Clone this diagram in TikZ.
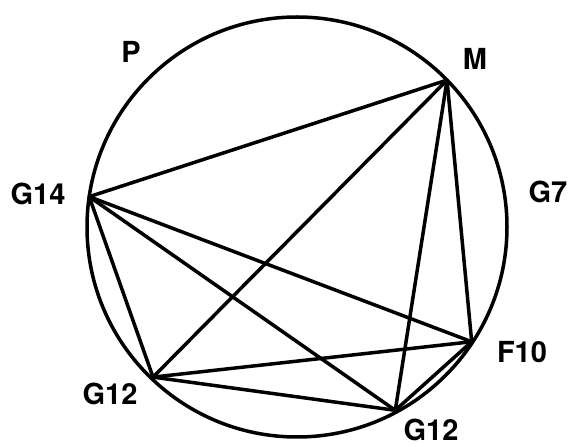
\documentclass[tikz,border=0pt]{standalone}
\usepackage{fontspec}
\setmainfont{TeX Gyre Heros}
\usetikzlibrary{calc}
\begin{document}
\begin{tikzpicture}[x=1pt,y=1pt,
  edge/.style={line width=3.5pt,line cap=round,line join=round},
  lbl/.style={inner sep=0pt,font=\fontsize{29}{34}\selectfont\bfseries}]
\useasboundingbox (0,0) rectangle (571,447);
\coordinate (O) at (297,220);
\draw[edge] (O) circle[radius=210];
\coordinate (M) at ($(O)+(44.4:210)$);
\coordinate (G14) at ($(O)+(171.7:210)$);
\coordinate (G12a) at ($(O)+(226.2:208)$);
\coordinate (G12b) at ($(O)+(298.2:208)$);
\coordinate (F10) at ($(O)+(326.7:209)$);
\draw[edge] (M) -- (G14);
\draw[edge] (M) -- (G12a);
\draw[edge] (M) -- (G12b);
\draw[edge] (M) -- (F10);
\draw[edge] (G14) -- (F10);
\draw[edge] (G14) -- (G12b);
\draw[edge] (G14) -- (G12a);
\draw[edge] (G12a) -- (F10);
\draw[edge] (G12a) -- (G12b);
\draw[edge] (F10) -- (G12b);
\node[lbl] (lM) at (475,388) {M};
\node[lbl] (lP) at (131,395) {P};
\node[lbl] (lG14) at (38,253) {G14};
\node[lbl] (lG7) at (548,255) {G7};
\node[lbl] (lF10) at (522,95) {F10};
\node[lbl] (lG12a) at (110,53) {G12};
\node[lbl] (lG12b) at (431,17) {G12};
\end{tikzpicture}
\end{document}
